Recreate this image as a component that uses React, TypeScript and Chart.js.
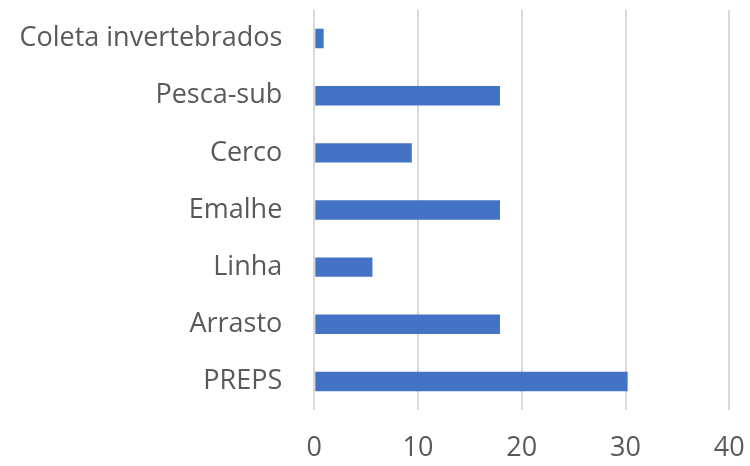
import React, { useEffect, useRef } from "react";
import { Chart, registerables } from "chart.js";

Chart.register(...registerables);

const categories = [
  "Coleta invertebrados",
  "Pesca-sub",
  "Cerco",
  "Emalhe",
  "Linha",
  "Arrasto",
  "PREPS",
];
const values = [0.9, 17.9, 9.4, 17.9, 5.6, 17.9, 30.2];
const xMin = 0;
const xMax = 40;
const xStep = 10;

export default function App() {
  const ref = useRef<HTMLCanvasElement | null>(null);

  useEffect(() => {
    if (!ref.current) return;
    const chart = new Chart(ref.current, {
      type: "bar",
      data: {
        labels: categories,
        datasets: [
          {
            data: values,
            backgroundColor: "#4472C4",
            borderWidth: 0,
            barPercentage: 0.34,
            categoryPercentage: 1,
          },
        ],
      },
      options: {
        indexAxis: "y",
        animation: false,
        responsive: false,
        maintainAspectRatio: false,
        layout: { padding: { top: 10, right: 20.7, bottom: 0, left: 0 } },
        plugins: { legend: { display: false }, tooltip: { enabled: false } },
        scales: {
          x: {
            type: "linear",
            min: xMin,
            max: xMax,
            ticks: {
              stepSize: xStep,
              color: "#595959",
              padding: 22,
              font: { family: "'Open Sans'", size: 27 },
            },
            grid: { color: "#d9d9d9", lineWidth: 2, drawTicks: false },
            border: { display: false },
            afterFit: (s: any) => {
              s.height = 56;
              s.paddingLeft = 0;
              s.paddingRight = 0;
            },
          },
          y: {
            ticks: {
              color: "#595959",
              padding: 32,
              font: { family: "'Open Sans'", size: 27 },
            },
            grid: { display: false, drawTicks: false },
            border: { display: false },
            afterFit: (s: any) => {
              s.width = 314.3;
              s.paddingTop = 0;
              s.paddingBottom = 0;
            },
          },
        },
      },
    });
    return () => chart.destroy();
  }, []);

  return (
    <div style={{ position: "fixed", left: 0, top: 0, width: 750, height: 466, background: "#fff" }}>
      <canvas ref={ref} width={750} height={466} />
    </div>
  );
}
